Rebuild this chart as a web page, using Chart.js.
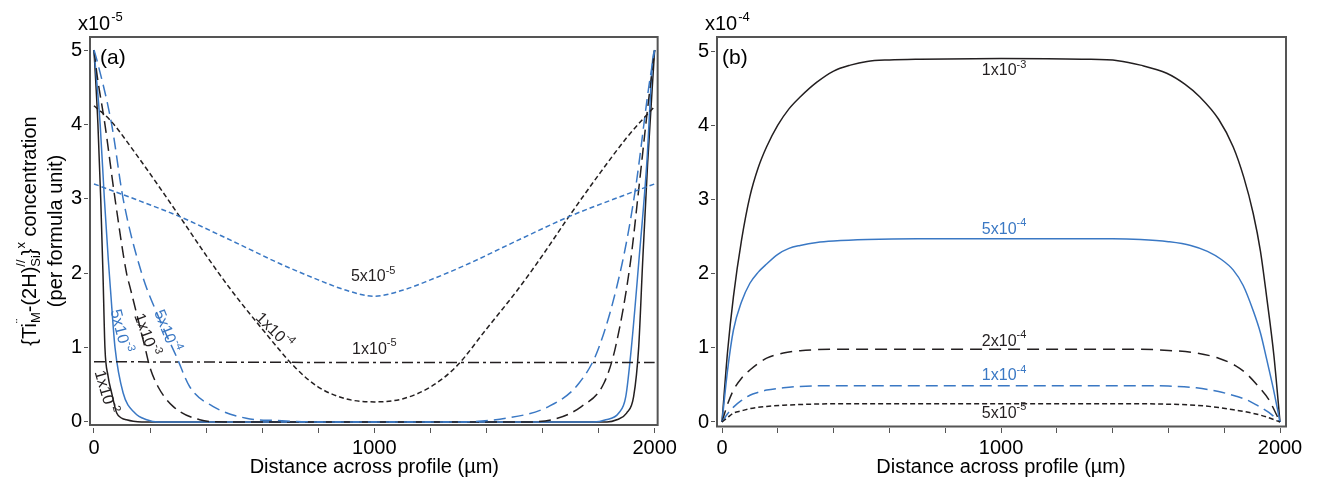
<!DOCTYPE html>
<html>
<head>
<meta charset="utf-8">
<script src="https://cdn.jsdelivr.net/npm/chart.js@4.4.0/dist/chart.umd.min.js"></script>
<style>
	html, body { margin: 0; padding: 0; background: #fff; }
	#wrap { position: relative; width: 1320px; height: 486px; }
	#canvasA { position: absolute; left: 0; top: 0; }
	#canvasB { position: absolute; left: 680px; top: 0; }
</style>
</head>
<body>
<div id="wrap">
	<canvas id="canvasA" width="680" height="486"></canvas>
	<canvas id="canvasB" width="640" height="486"></canvas>
</div>
<script>
const FONT = "'Liberation Sans', Arial, sans-serif";
const BLACK = '#231f20';
const BLUE = '#3a78c4';

// axes
const xTickValues = [0, 200, 400, 600, 800, 1000, 1200, 1400, 1600, 1800, 2000];
const xTickLabels = [0, 1000, 2000];
const yTickValues = [0, 1, 2, 3, 4, 5];

// panel (a), concentration in units of 1e-5, [distance (um), value]
const a_1e2 = [[0,5],[14,4],[24,3],[32,2],[39,1],[50,0.62],[63,0.39],[81,0.12],[100,0.05],[116,0.03],[140,0.01],[170,0],[1000,0],[1830,0],[1865,0.03],[1900,0.12],[1925,0.34],[1943,1.0],[1957,2.13],[1975,3.48],[2000,5]];
const a_5e3 = [[0,5],[22,4],[37,3],[51,2.18],[59,1.77],[75,1],[104,0.39],[146,0.12],[188,0.03],[230,0],[1000,0],[1780,0],[1826,0.03],[1872,0.12],[1897,0.34],[1917,1.0],[1943,2.13],[1972,3.48],[1993,4.87],[2000,5]];
const a_1e3 = [[0,5],[10,4.69],[39,4],[75,3],[116,2],[128,1.82],[182,1.0],[199,0.74],[229,0.47],[282,0.21],[377,0.03],[470,0],[1000,0],[1530,0],[1633,0.03],[1740,0.21],[1819,0.52],[1860,1.0],[1913,2.13],[1943,3.12],[1973,4.15],[2000,5]];
const a_5e4 = [[0,5],[10,4.87],[63,4],[104,3],[170,2],[235,1.37],[294,0.88],[342,0.47],[424,0.21],[543,0.05],[650,0.02],[800,0],[1000,0],[1250,0],[1470,0.05],[1623,0.21],[1730,0.52],[1801,1.0],[1884,2.13],[1931,3.12],[1979,4.5],[2000,5]];
const a_1e4 = [[0,4.25],[57,4.06],[150,3.6],[306,2.76],[400,2.24],[484,1.8],[600,1.25],[721,0.72],[800,0.47],[900,0.31],[1000,0.27],[1100,0.31],[1200,0.47],[1291,0.74],[1400,1.25],[1516,1.8],[1600,2.24],[1694,2.76],[1800,3.32],[1900,3.82],[1960,4.08],[2000,4.24]];
const a_5e5 = [[0,3.2],[150,2.99],[306,2.76],[450,2.51],[556,2.32],[662,2.13],[800,1.91],[900,1.77],[1000,1.69],[1100,1.77],[1200,1.91],[1338,2.13],[1444,2.32],[1550,2.51],[1694,2.76],[1850,2.99],[2000,3.2]];
const a_1e5 = [[0,0.81],[1000,0.8],[2000,0.8]];

// panel (b), concentration in units of 1e-4
const b_1e3 = [[0,0],[20,0.95],[41,1.69],[70,2.45],[100,3.04],[130,3.43],[160,3.71],[200,4.0],[240,4.22],[280,4.38],[340,4.58],[400,4.73],[460,4.81],[520,4.86],[600,4.88],[710,4.89],[1000,4.9],[1290,4.89],[1419,4.87],[1500,4.81],[1594,4.70],[1660,4.55],[1713,4.38],[1780,4.08],[1832,3.71],[1870,3.3],[1904,2.81],[1930,2.3],[1952,1.69],[1978,0.9],[2000,0]];
const b_5e4 = [[0,0],[20,0.7],[41,1.24],[70,1.62],[100,1.87],[130,2.02],[160,2.13],[200,2.26],[240,2.34],[280,2.38],[340,2.42],[400,2.44],[520,2.46],[700,2.47],[1000,2.47],[1400,2.47],[1500,2.46],[1600,2.43],[1680,2.38],[1740,2.30],[1790,2.19],[1832,2.05],[1868,1.84],[1904,1.5],[1930,1.2],[1952,0.85],[1976,0.45],[2000,0]];
const b_2e4 = [[0,0],[20,0.24],[41,0.43],[70,0.59],[100,0.70],[130,0.79],[160,0.86],[220,0.93],[280,0.96],[400,0.98],[1000,0.98],[1500,0.98],[1600,0.965],[1700,0.93],[1780,0.86],[1840,0.76],[1880,0.65],[1920,0.49],[1960,0.3],[2000,0]];
const b_1e4 = [[0,0],[20,0.11],[41,0.2],[70,0.29],[100,0.36],[130,0.40],[160,0.43],[220,0.46],[280,0.48],[400,0.49],[1000,0.49],[1500,0.49],[1600,0.485],[1700,0.46],[1780,0.41],[1840,0.35],[1880,0.3],[1920,0.22],[1960,0.13],[2000,0]];
const b_5e5 = [[0,0],[20,0.06],[41,0.12],[70,0.15],[100,0.18],[160,0.21],[220,0.225],[280,0.235],[400,0.245],[1000,0.245],[1500,0.245],[1600,0.24],[1700,0.225],[1780,0.195],[1840,0.16],[1900,0.12],[1950,0.07],[2000,0]];

const aSeries = [
	{ pts: a_1e5, color: BLACK, dash: [11, 4, 3, 4] },
	{ pts: a_5e5, color: BLUE, dash: [5, 3] },
	{ pts: a_1e4, color: BLACK, dash: [5, 3] },
	{ pts: a_5e4, color: BLUE, dash: [12, 6] },
	{ pts: a_1e3, color: BLACK, dash: [12, 6] },
	{ pts: a_5e3, color: BLUE, dash: [] },
	{ pts: a_1e2, color: BLACK, dash: [] }
];

const bSeries = [
	{ pts: b_5e5, color: BLACK, dash: [5, 3] },
	{ pts: b_1e4, color: BLUE, dash: [12, 6] },
	{ pts: b_2e4, color: BLACK, dash: [12, 7] },
	{ pts: b_5e4, color: BLUE, dash: [] },
	{ pts: b_1e3, color: BLACK, dash: [] }
];

// curve labels: base, exponent, position in data units, rotation (deg)
const aLabels = [
	{ base: '5x10', exp: '-5', x: 996, y: 1.95, rot: 0, color: BLACK },
	{ base: '1x10', exp: '-5', x: 1000, y: 0.97, rot: 0, color: BLACK },
	{ base: '1x10', exp: '-4', x: 641, y: 1.22, rot: 45, color: BLACK },
	{ base: '5x10', exp: '-4', x: 258, y: 1.22, rot: 68, color: BLUE },
	{ base: '1x10', exp: '-3', x: 185, y: 1.17, rot: 70, color: BLACK },
	{ base: '5x10', exp: '-3', x: 93, y: 1.22, rot: 76, color: BLUE },
	{ base: '1x10', exp: '-2', x: 39, y: 0.4, rot: 74, color: BLACK }
];

const bLabels = [
	{ base: '1x10', exp: '-3', x: 1011, y: 4.73, rot: 0, color: BLACK },
	{ base: '5x10', exp: '-4', x: 1011, y: 2.59, rot: 0, color: BLUE },
	{ base: '2x10', exp: '-4', x: 1011, y: 1.09, rot: 0, color: BLACK },
	{ base: '1x10', exp: '-4', x: 1011, y: 0.62, rot: 0, color: BLUE },
	{ base: '5x10', exp: '-5', x: 1011, y: 0.11, rot: 0, color: BLACK }
];


function drawPower(ctx, base, exp, size) {
	ctx.textBaseline = 'middle';
	ctx.textAlign = 'left';
	ctx.font = size + 'px ' + FONT;
	const wb = ctx.measureText(base).width;
	const small = Math.round(size * 0.68);
	ctx.font = small + 'px ' + FONT;
	const we = ctx.measureText(exp).width;
	const x0 = -(wb + we) / 2;
	ctx.font = size + 'px ' + FONT;
	ctx.fillText(base, x0, 0);
	ctx.font = small + 'px ' + FONT;
	ctx.fillText(exp, x0 + wb, -size * 0.4);
}

// y title, first line with Kroger-Vink sub/superscripts
const yTitleParts = [
	{ t: '{Ti' },
	{ sup: '\u00A8', sub: 'M' },
	{ t: '-(2H)' },
	{ sup: '//', sub: 'Si' },
	{ t: '}' },
	{ sup: 'x' },
	{ t: ' concentration' }
];

function drawRichLine(ctx, parts, size) {
	const small = Math.round(size * 0.65);
	ctx.textBaseline = 'middle';
	ctx.textAlign = 'left';
	const widths = parts.map(p => {
		if (p.t) {
			ctx.font = size + 'px ' + FONT;
			return ctx.measureText(p.t).width;
		}
		ctx.font = small + 'px ' + FONT;
		return Math.max(p.sup ? ctx.measureText(p.sup).width : 0, p.sub ? ctx.measureText(p.sub).width : 0);
	});
	let x = -widths.reduce((a, b) => a + b, 0) / 2;
	parts.forEach((p, i) => {
		if (p.t) {
			ctx.font = size + 'px ' + FONT;
			ctx.fillText(p.t, x, 0);
		} else {
			ctx.font = small + 'px ' + FONT;
			if (p.sup) ctx.fillText(p.sup, x, -size * 0.42);
			if (p.sub) ctx.fillText(p.sub, x, size * 0.3);
		}
		x += widths[i];
	});
}


const decorPlugin = {
	id: 'decor',
	afterDatasetsDraw(chart, args, opts) {
		const ctx = chart.ctx;
		const area = chart.chartArea;
		const xs = chart.scales.x, ys = chart.scales.y;

		// frame
		ctx.save();
		ctx.strokeStyle = '#555';
		ctx.lineWidth = 2;
		ctx.strokeRect(area.left + opts.inset, area.top, area.right - area.left - opts.inset, area.bottom - opts.bottomInset - area.top);
		ctx.restore();

		// curve labels
		opts.labels.forEach(l => {
			ctx.save();
			ctx.fillStyle = l.color;
			ctx.translate(xs.getPixelForValue(l.x), ys.getPixelForValue(l.y));
			ctx.rotate(l.rot * Math.PI / 180);
			drawPower(ctx, l.base, l.exp, 16);
			ctx.restore();
		});

		// multiplier above the axis
		ctx.save();
		ctx.fillStyle = '#000';
		ctx.textBaseline = 'alphabetic';
		ctx.textAlign = 'left';
		ctx.font = '20px ' + FONT;
		ctx.fillText('x10', opts.multX, 30);
		const w = ctx.measureText('x10').width;
		ctx.font = '13px ' + FONT;
		ctx.fillText(opts.multExp, opts.multX + w + 1, 21);

		// panel letter
		ctx.font = '21px ' + FONT;
		ctx.fillText(opts.letter, area.left + opts.letterDx, 64);

		// x title
		ctx.font = '20px ' + FONT;
		ctx.textAlign = 'center';
		ctx.textBaseline = 'middle';
		ctx.fillText('Distance across profile (\u00B5m)', xs.getPixelForValue(1000), 467);

		// y title
		if (opts.yTitle) {
			ctx.translate(30, 231);
			ctx.rotate(-Math.PI / 2);
			drawRichLine(ctx, yTitleParts, 20);
			ctx.textAlign = 'center';
			ctx.font = '20px ' + FONT;
			ctx.fillText('(per formula unit)', 0, 26);
		}
		ctx.restore();
	}
};


function makePanel(canvasId, series, p) {
	const ctx = document.getElementById(canvasId).getContext('2d');

	const chartConfig = {
		type: 'line',
		data: {
			datasets: series.map(s => ({
				data: s.pts.map(v => ({ x: v[0], y: v[1] })),
				borderColor: s.color,
				borderWidth: 1.5,
				borderDash: s.dash,
				pointRadius: 0,
				fill: false,
				cubicInterpolationMode: 'monotone'
			}))
		},
		options: {
			responsive: false,
			animation: false,
			devicePixelRatio: 1,
			layout: { padding: { top: 37, right: p.padRight, left: 0, bottom: 0 } },
			plugins: {
				legend: { display: false },
				tooltip: { enabled: false },
				decor: p.decor
			},
			scales: {
				x: {
					type: 'linear',
					min: p.xMin,
					max: p.xMax,
					afterBuildTicks: s => { s.ticks = xTickValues.map(v => ({ value: v })); },
					afterFit: s => { s.height = 58; },
					border: { display: false },
					grid: { drawOnChartArea: false, drawTicks: true, tickLength: 5, color: '#555', lineWidth: 1 },
					ticks: {
						autoSkip: false,
						maxRotation: 0,
						padding: 3,
						color: '#000',
						font: { family: FONT, size: 20 },
						callback: v => xTickLabels.includes(v) ? String(v) : ''
					}
				},
				y: {
					type: 'linear',
					min: p.yMin,
					max: p.yMax,
					afterBuildTicks: s => { s.ticks = yTickValues.map(v => ({ value: v })); },
					afterFit: s => { s.width = p.yWidth; },
					border: { display: false },
					grid: { drawOnChartArea: false, drawTicks: true, tickLength: 4, color: '#555', lineWidth: 1 },
					ticks: {
						padding: 2,
						color: '#000',
						font: { family: FONT, size: 20 },
						callback: v => String(v)
					}
				}
			}
		},
		plugins: [decorPlugin]
	};

	return new Chart(ctx, chartConfig);
}

makePanel('canvasA', aSeries, {
	padRight: 21, yWidth: 88,
	xMin: -21.4, xMax: 2010.7, yMin: -0.081, yMax: 5.175,
	decor: { labels: aLabels, inset: 2, bottomInset: 3, multX: 78, multExp: '-5', letter: '(a)', letterDx: 12, yTitle: true }
});

makePanel('canvasB', bSeries, {
	padRight: 34, yWidth: 35,
	xMin: -25.1, xMax: 2021.5, yMin: -0.081, yMax: 5.189,
	decor: { labels: bLabels, inset: 2, bottomInset: 1.5, multX: 25, multExp: '-4', letter: '(b)', letterDx: 7, yTitle: false }
});
</script>
</body>
</html>
